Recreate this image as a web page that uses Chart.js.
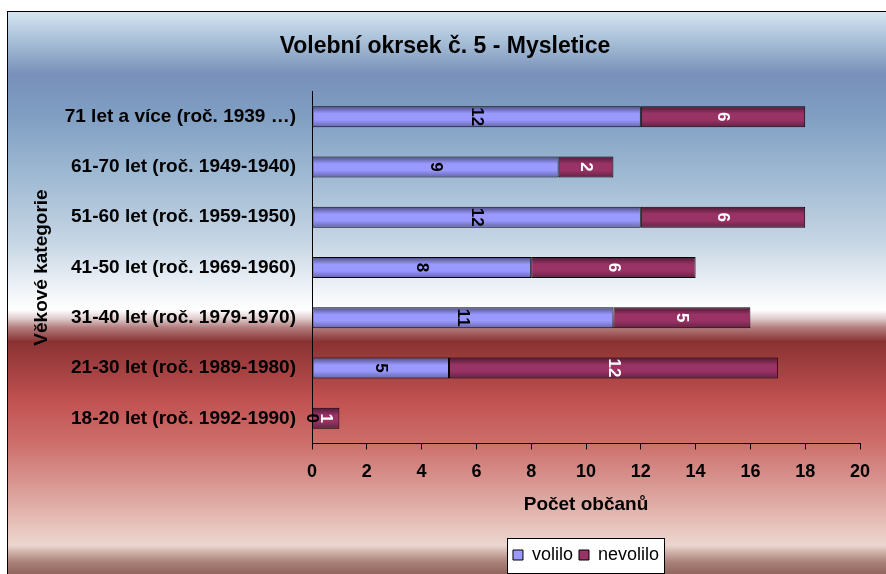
<!DOCTYPE html>
<html>
<head>
<meta charset="utf-8">
<script src="https://cdn.jsdelivr.net/npm/chart.js@4"></script>
<style>
  html, body { margin: 0; padding: 0; background: #fff; }
  #graf { display: block; }
</style>
</head>
<body>
<canvas id="graf" width="886" height="574"></canvas>
<script>
const kategorie = [
    "71 let a více (roč. 1939 …)",
    "61-70 let (roč. 1949-1940)",
    "51-60 let (roč. 1959-1950)",
    "41-50 let (roč. 1969-1960)",
    "31-40 let (roč. 1979-1970)",
    "21-30 let (roč. 1989-1980)",
    "18-20 let (roč. 1992-1990)"
];
const volilo = [12, 9, 12, 8, 11, 5, 0];
const nevolilo = [6, 2, 6, 6, 5, 12, 1];
const osaX = { min: 0, max: 20, krok: 2 };

const pismo = "'Liberation Sans', Arial, sans-serif";

// pozadi s prechodem + ramecek legendy
const pozadi = {
    id: "pozadi",
    beforeDraw(chart) {
        const ctx = chart.ctx;
        const w = chart.width, h = chart.height;
        ctx.save();
        ctx.fillStyle = "#fff";
        ctx.fillRect(0, 0, w, h);
        const g = ctx.createLinearGradient(0, 0, 0, h);
        g.addColorStop(0.02, "#d6e5f1");
        g.addColorStop(0.07, "#a9c0d8");
        g.addColorStop(0.13, "#7890ba");
        g.addColorStop(0.2, "#7f9ec2");
        g.addColorStop(0.3, "#9db8d2");
        g.addColorStop(0.42, "#c5d5e4");
        g.addColorStop(0.5, "#eef2f7");
        g.addColorStop(0.54, "#ffffff");
        g.addColorStop(0.555, "#e0cccc");
        g.addColorStop(0.57, "#b48080");
        g.addColorStop(0.595, "#8a3232");
        g.addColorStop(0.7, "#c25252");
        g.addColorStop(0.77, "#cc6e6a");
        g.addColorStop(0.84, "#d89590");
        g.addColorStop(0.91, "#e5c0b8");
        g.addColorStop(0.95, "#ecd6d0");
        g.addColorStop(0.965, "#c8a8a0");
        g.addColorStop(0.98, "#a88078");
        g.addColorStop(1, "#90665e");
        ctx.fillStyle = g;
        ctx.fillRect(8, 12, w - 8, h - 12);
        ctx.strokeStyle = "#000";
        ctx.lineWidth = 1;
        ctx.strokeRect(7.5, 11.5, w, h);

        const boxy = chart.legend.legendHitBoxes;
        if (boxy && boxy.length) {
            const l = Math.min(...boxy.map(b => b.left)) - 6;
            const r = Math.max(...boxy.map(b => b.left + b.width)) + 5;
            const t = Math.min(...boxy.map(b => b.top)) - 8;
            const b = h - 1;
            ctx.fillStyle = "#fff";
            ctx.fillRect(l, t, r - l, b - t);
            ctx.strokeRect(Math.round(l) + 0.5, Math.round(t) + 0.5, Math.round(r - l), Math.round(b - t));
        }
        ctx.restore();
    }
};

// stinovani sloupcu a svisle popisky hodnot
const popisky = {
    id: "popisky",
    afterDatasetsDraw(chart) {
        const ctx = chart.ctx;
        ctx.save();
        chart.data.datasets.forEach((ds, i) => {
            const meta = chart.getDatasetMeta(i);
            meta.data.forEach((el, j) => {
                const p = el.getProps(["x", "y", "base", "height"], true);
                const top = p.y - p.height / 2, bot = p.y + p.height / 2;
                const l = Math.min(p.x, p.base), r = Math.max(p.x, p.base);
                if (r - l > 1) {
                    const g = ctx.createLinearGradient(0, top, 0, bot);
                    g.addColorStop(0, "rgba(0,0,0,0.5)");
                    g.addColorStop(0.35, "rgba(0,0,0,0)");
                    g.addColorStop(0.65, "rgba(0,0,0,0)");
                    g.addColorStop(1, "rgba(0,0,0,0.35)");
                    ctx.fillStyle = g;
                    ctx.fillRect(l + 1, top + 1, r - l - 2, bot - top - 2);
                }
                const cx = (p.x + p.base) / 2;
                ctx.save();
                ctx.translate(cx, p.y);
                ctx.rotate(Math.PI / 2);
                ctx.font = "bold 17px " + pismo;
                ctx.textAlign = "center";
                ctx.textBaseline = "middle";
                ctx.fillStyle = i === 0 ? "#000" : "#fff";
                ctx.fillText(String(ds.data[j]), 0, 0);
                ctx.restore();
            });
        });
        ctx.restore();
    }
};

new Chart(document.getElementById("graf"), {
    type: "bar",
    data: {
        labels: kategorie,
        datasets: [
            {
                label: "volilo",
                data: volilo,
                backgroundColor: "#9999ff",
                borderColor: "#000",
                borderWidth: 1,
                borderSkipped: false,
                barPercentage: 0.42,
                categoryPercentage: 1
            },
            {
                label: "nevolilo",
                data: nevolilo,
                backgroundColor: "#993366",
                borderColor: "#000",
                borderWidth: 1,
                borderSkipped: false,
                barPercentage: 0.42,
                categoryPercentage: 1
            }
        ]
    },
    options: {
        indexAxis: "y",
        responsive: false,
        animation: false,
        layout: { padding: { left: 30, right: 26, top: 12, bottom: 0 } },
        scales: {
            x: {
                stacked: true,
                min: osaX.min,
                max: osaX.max,
                ticks: {
                    stepSize: osaX.krok,
                    color: "#000",
                    padding: 12,
                    font: { family: pismo, size: 18, weight: "bold" }
                },
                grid: { drawOnChartArea: false, drawTicks: true, tickLength: 6, color: "#000" },
                border: { color: "#000", width: 1 },
                title: {
                    display: true,
                    text: "Počet občanů",
                    color: "#000",
                    padding: { top: 0, bottom: 26 },
                    font: { family: pismo, size: 19, weight: "bold", lineHeight: 1 }
                }
            },
            y: {
                stacked: true,
                afterFit(scale) { scale.width = 282; },
                ticks: {
                    color: "#000",
                    padding: 8,
                    font: { family: pismo, size: 19, weight: "bold" }
                },
                grid: { display: false },
                border: { color: "#000", width: 1 },
                title: {
                    display: true,
                    text: "Věkové kategorie",
                    color: "#000",
                    padding: 0,
                    font: { family: pismo, size: 19, weight: "bold" }
                }
            }
        },
        plugins: {
            title: {
                display: true,
                text: "Volební okrsek č. 5 - Mysletice",
                color: "#000",
                padding: { top: 21, bottom: 31 },
                font: { family: pismo, size: 23, weight: "bold" }
            },
            legend: {
                position: "bottom",
                fullSize: false,
                labels: {
                    color: "#000",
                    boxWidth: 10,
                    boxHeight: 10,
                    padding: 6,
                    font: { family: pismo, size: 18 }
                }
            },
            tooltip: { enabled: false }
        }
    },
    plugins: [pozadi, popisky]
});
</script>
</body>
</html>
